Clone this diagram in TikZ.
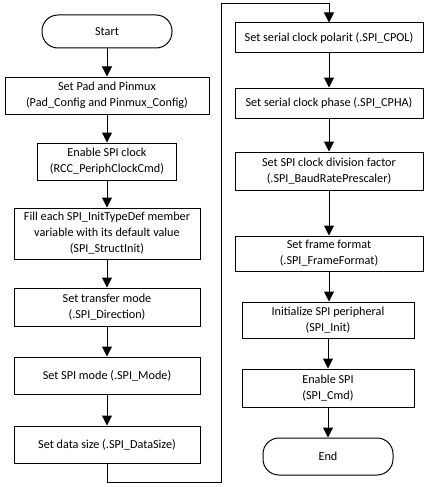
\documentclass[tikz,border=0pt]{standalone}
\usepackage{fontspec}
\setmainfont{Carlito}
\usepackage{tikz}
\usetikzlibrary{arrows.meta, calc, positioning}

\begin{document}
\begin{tikzpicture}[x=1pt, y=-1pt, line width=1pt,
        procbox/.style={draw, rectangle, align=center, font=\fontsize{12.2}{16}\selectfont, inner sep=1pt},
        termbox/.style={draw, rectangle, rounded corners=16pt, align=center, font=\fontsize{12.2}{16}\selectfont},
        flow/.style={-{Triangle[length=10pt, width=10pt]}}]
        \useasboundingbox (0,0) rectangle (427,487);
        % left column
        \node[termbox, minimum width=130pt, minimum height=33pt] (start) at (107,31.5) {Start};
        \node[procbox, minimum width=204pt, minimum height=37pt] (pad) at (107,95.5) {Set Pad and Pinmux\\(Pad\_Config and Pinmux\_Config)};
        \node[procbox, minimum width=139pt, minimum height=37pt] (clock) at (107,161.5) {Enable SPI clock\\(RCC\_PeriphClockCmd)};
        \node[procbox, minimum width=186pt, minimum height=51pt] (fill) at (107,233.5) {Fill each SPI\_InitTypeDef member\\variable with its default value\\(SPI\_StructInit)};
        \node[procbox, minimum width=186pt, minimum height=38pt] (dir) at (107,307) {Set transfer mode\\(.SPI\_Direction)};
        \node[procbox, minimum width=186pt, minimum height=37pt] (mode) at (107,375.5) {Set SPI mode (.SPI\_Mode)};
        \node[procbox, minimum width=186pt, minimum height=37pt] (size) at (107,444.5) {Set data size (.SPI\_DataSize)};
        % right column
        \node[procbox, minimum width=188pt, minimum height=30pt] (cpol) at (329,38) {Set serial clock polarit (.SPI\_CPOL)};
        \node[procbox, minimum width=188pt, minimum height=30pt] (cpha) at (329,103) {Set serial clock phase (.SPI\_CPHA)};
        \node[procbox, minimum width=188pt, minimum height=38pt] (baud) at (329,171) {Set SPI clock division factor\\(.SPI\_BaudRatePrescaler)};
        \node[procbox, minimum width=188pt, minimum height=35pt] (frame) at (329,253.5) {Set frame format\\(.SPI\_FrameFormat)};
        \node[procbox, minimum width=172pt, minimum height=36pt] (init) at (328,320) {Initialize SPI peripheral\\(SPI\_Init)};
        \node[procbox, minimum width=172pt, minimum height=38pt] (enable) at (328,388) {Enable SPI\\(SPI\_Cmd)};
        \node[termbox, minimum width=130pt, minimum height=37pt] (end) at (328,456.5) {End};
        \coordinate (lowturn) at (221,482);
        \coordinate (highturn) at (221,4);
        % connectors
        \draw[flow] (start) -- (pad);
        \draw[flow] (pad) -- (clock);
        \draw[flow] (clock) -- (fill);
        \draw[flow] (fill) -- (dir);
        \draw[flow] (dir) -- (mode);
        \draw[flow] (mode) -- (size);
        \draw[flow] (size.south) |- (lowturn) -- (highturn) -| (cpol.north);
        \draw[flow] (cpol) -- (cpha);
        \draw[flow] (cpha) -- (baud);
        \draw[flow] (baud) -- (frame);
        \draw[flow] (frame.south) -- (init.north -| frame.south);
        \draw[flow] (init) -- (enable);
        \draw[flow] (enable) -- (end);
    \end{tikzpicture}
\end{document}
